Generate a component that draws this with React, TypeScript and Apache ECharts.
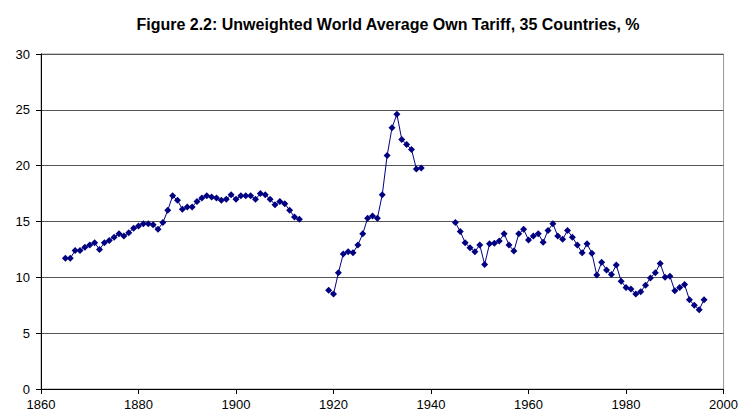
import React, { useEffect, useRef } from "react";
import * as echarts from "echarts";

const TITLE = "Figure 2.2: Unweighted World Average Own Tariff, 35 Countries, %";

const START_1 = 1865;
const TARIFF_1 = [
  11.7, 11.7, 12.4, 12.4, 12.7, 12.9, 13.1, 12.5, 13.1, 13.3,
  13.6, 13.9, 13.7, 14.0, 14.4, 14.6, 14.8, 14.8, 14.7, 14.3,
  14.9, 16.0, 17.3, 16.9, 16.1, 16.3, 16.3, 16.8, 17.1, 17.3,
  17.2, 17.1, 16.9, 17.0, 17.4, 17.0, 17.3, 17.3, 17.3, 17.0,
  17.5, 17.4, 17.0, 16.5, 16.8, 16.6, 16.0, 15.4, 15.2,
];

const START_2 = 1919;
const TARIFF_2 = [
  8.85, 8.5, 10.4, 12.1, 12.3, 12.2, 12.9, 13.9, 15.3, 15.5,
  15.3, 17.4, 20.9, 23.4, 24.6, 22.35, 21.9, 21.45, 19.7, 19.8,
];

const START_3 = 1945;
const TARIFF_3 = [
  14.9, 14.1, 13.1, 12.65, 12.3, 12.9, 11.15, 13.0, 13.05, 13.25,
  13.9, 12.9, 12.35, 13.9, 14.3, 13.35, 13.7, 13.9, 13.15, 14.2,
  14.8, 13.7, 13.4, 14.2, 13.6, 12.9, 12.2, 13.0, 12.15, 10.2,
  11.35, 10.65, 10.25, 11.1, 9.65, 9.1, 8.95, 8.5, 8.7, 9.3,
  9.95, 10.4, 11.25, 10.0, 10.1, 8.8, 9.1, 9.35, 8.0, 7.5,
  7.1, 8.0,
];

const X_MIN = 1860;
const X_MAX = 2000;
const X_STEP = 20;
const Y_MIN = 0;
const Y_MAX = 30;
const Y_STEP = 5;

const toPairs = (start: number, vals: number[]) => vals.map((v, i) => [start + i, v]);

const FONT = "Liberation Sans, Arial, sans-serif";
const NAVY = "#000080";

export default function App() {
  const ref = useRef<HTMLDivElement>(null);
  useEffect(() => {
    if (!ref.current) return;
    const chart = echarts.init(ref.current, null, { renderer: "svg" });
    const seriesCommon = {
      type: "line" as const,
      symbol: "diamond",
      symbolSize: 7,
      lineStyle: { color: NAVY, width: 1 },
      itemStyle: { color: NAVY },
      showSymbol: true,
    };
    chart.setOption({
      animation: false,
      backgroundColor: "#fff",
      title: {
        text: TITLE,
        left: 383,
        textAlign: "center",
        top: 11,
        textStyle: { fontFamily: FONT, fontSize: 16, fontWeight: "bold", color: "#000" },
      },
      grid: { left: 41, right: 16, top: 54, bottom: 25, show: true, borderColor: "#999", borderWidth: 1 },
      xAxis: {
        type: "value",
        min: X_MIN,
        max: X_MAX,
        interval: X_STEP,
        axisLine: { show: true, lineStyle: { color: "#000", width: 1 } },
        axisTick: { show: true, inside: false, length: 5, lineStyle: { color: "#000" } },
        axisLabel: { fontFamily: FONT, fontSize: 13, color: "#000", margin: 9, formatter: (v: number) => String(v) },
        splitLine: { show: false },
      },
      yAxis: {
        type: "value",
        min: Y_MIN,
        max: Y_MAX,
        interval: Y_STEP,
        axisLine: { show: true, lineStyle: { color: "#000", width: 1 } },
        axisTick: { show: true, length: 5, lineStyle: { color: "#000" } },
        axisLabel: { fontFamily: FONT, fontSize: 13, color: "#000", margin: 11 },
        splitLine: { show: true, lineStyle: { color: "#555", width: 1 } },
      },
      series: [
        { ...seriesCommon, data: toPairs(START_1, TARIFF_1) },
        { ...seriesCommon, data: toPairs(START_2, TARIFF_2) },
        { ...seriesCommon, data: toPairs(START_3, TARIFF_3) },
      ],
    });
    return () => chart.dispose();
  }, []);
  return <div ref={ref} style={{ width: 741, height: 414, position: "absolute", left: 0, top: 0 }} />;
}
